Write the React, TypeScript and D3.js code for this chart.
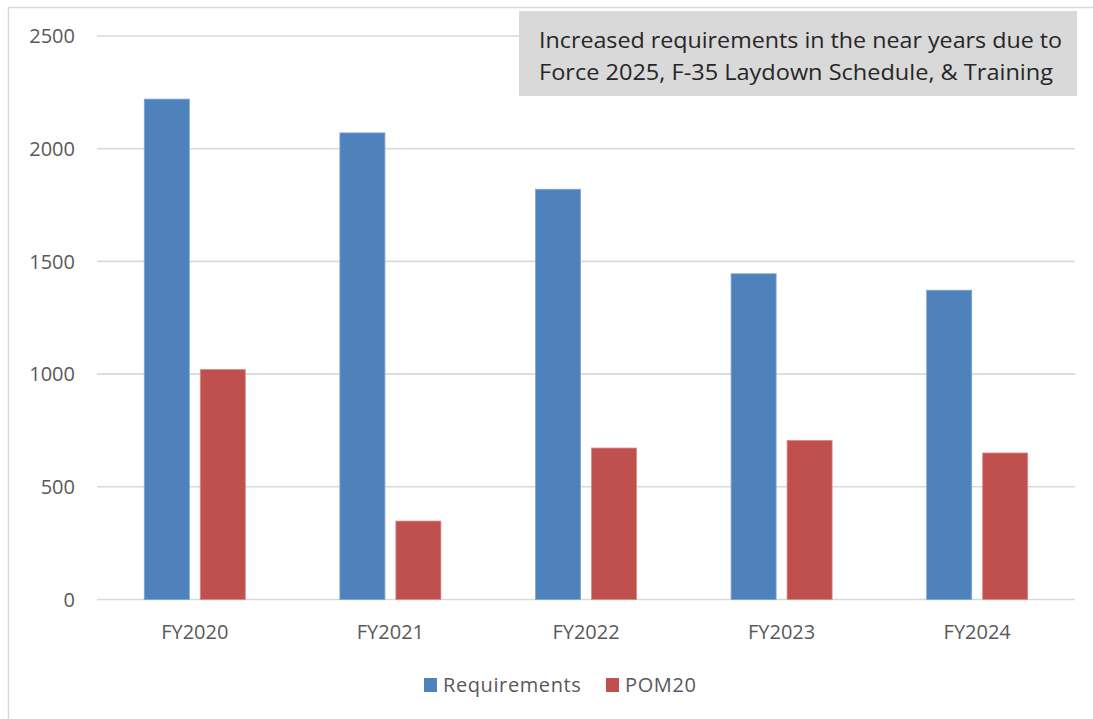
import React from "react";
import * as d3 from "d3";

const categories = ["FY2020", "FY2021", "FY2022", "FY2023", "FY2024"];
const seriesNames = ["Requirements", "POM20"];
const requirements = [2220, 2070, 1820, 1445, 1372];
const pom20 = [1020, 348, 672, 706, 650];
const yTicks = [0, 500, 1000, 1500, 2000, 2500];
const annotationLines = [
  "Increased requirements in the near years due to",
  "Force 2025, F-35 Laydown Schedule, & Training",
];

const W = 1093;
const H = 719;
const colors = ["#4F81BD", "#C0504D"];
const strokes = ["#7FA3D3", "#D88A88"];
const FONT = "'Open Sans', 'Liberation Sans', sans-serif";
const TEXT = "#595959";

export default function App() {
  const y = d3.scaleLinear().domain([0, 2500]).range([599.5, 36]);
  const x0 = d3
    .scaleBand<string>()
    .domain(categories)
    .range([97, 1075])
    .paddingInner(0.4836)
    .paddingOuter(0.2418);
  const x1 = d3
    .scaleBand<string>()
    .domain(seriesNames)
    .range([0, x0.bandwidth()])
    .paddingInner(0.196);
  const values = [requirements, pom20];
  const legendItems = [
    { name: seriesNames[0], sq: 424, tx: 443 },
    { name: seriesNames[1], sq: 606, tx: 625 },
  ];

  return (
    <svg
      width={W}
      height={H}
      style={{ position: "absolute", left: 0, top: 0, background: "#fff" }}
      fontFamily={FONT}
    >
      <rect x={0} y={0} width={W} height={H} fill="#fff" />
      {/* chart border */}
      <line x1={8} y1={7.5} x2={W} y2={7.5} stroke="#D9D9D9" strokeWidth={1.5} />
      <line x1={8.5} y1={7} x2={8.5} y2={H} stroke="#D9D9D9" strokeWidth={1.5} />

      {/* gridlines */}
      {yTicks.map((t) => (
        <line
          key={"g" + t}
          x1={97}
          x2={1075}
          y1={y(t)}
          y2={y(t)}
          stroke="#D9D9D9"
          strokeWidth={1.6}
        />
      ))}
      {/* y tick labels */}
      {yTicks.map((t) => (
        <text
          key={"t" + t}
          x={75}
          y={y(t)}
          dy="0.36em"
          textAnchor="end"
          fontSize={20}
          fill={TEXT}
        >
          {t}
        </text>
      ))}

      {/* bars */}
      {categories.map((c, i) => (
        <g key={c} transform={`translate(${x0(c)},0)`}>
          {seriesNames.map((s, j) => (
            <rect
              key={s}
              x={x1(s)}
              y={y(values[j][i])}
              width={x1.bandwidth()}
              height={y(0) - y(values[j][i])}
              fill={colors[j]}
              stroke={strokes[j]}
              strokeWidth={0.8}
            />
          ))}
        </g>
      ))}

      {/* x labels */}
      {categories.map((c) => (
        <text
          key={"x" + c}
          x={(x0(c) as number) + x0.bandwidth() / 2}
          y={639}
          textAnchor="middle"
          fontSize={20}
          fill={TEXT}
        >
          {c}
        </text>
      ))}

      {/* legend */}
      {legendItems.map((l, j) => (
        <g key={l.name}>
          <rect x={l.sq} y={678} width={13} height={14} fill={colors[j]} />
          <text x={l.tx} y={692} fontSize={20} fill={TEXT} letterSpacing={0.6}>
            {l.name}
          </text>
        </g>
      ))}

      {/* annotation */}
      <rect x={519} y={11} width={558} height={85} fill="#D9D9D9" />
      <text
        x={539}
        y={48}
        fontSize={22}
        fill="#262626"
        textLength={523}
        lengthAdjust="spacingAndGlyphs"
      >
        {annotationLines[0]}
      </text>
      <text
        x={539}
        y={80}
        fontSize={22}
        fill="#262626"
        textLength={514}
        lengthAdjust="spacingAndGlyphs"
      >
        {annotationLines[1]}
      </text>
    </svg>
  );
}
